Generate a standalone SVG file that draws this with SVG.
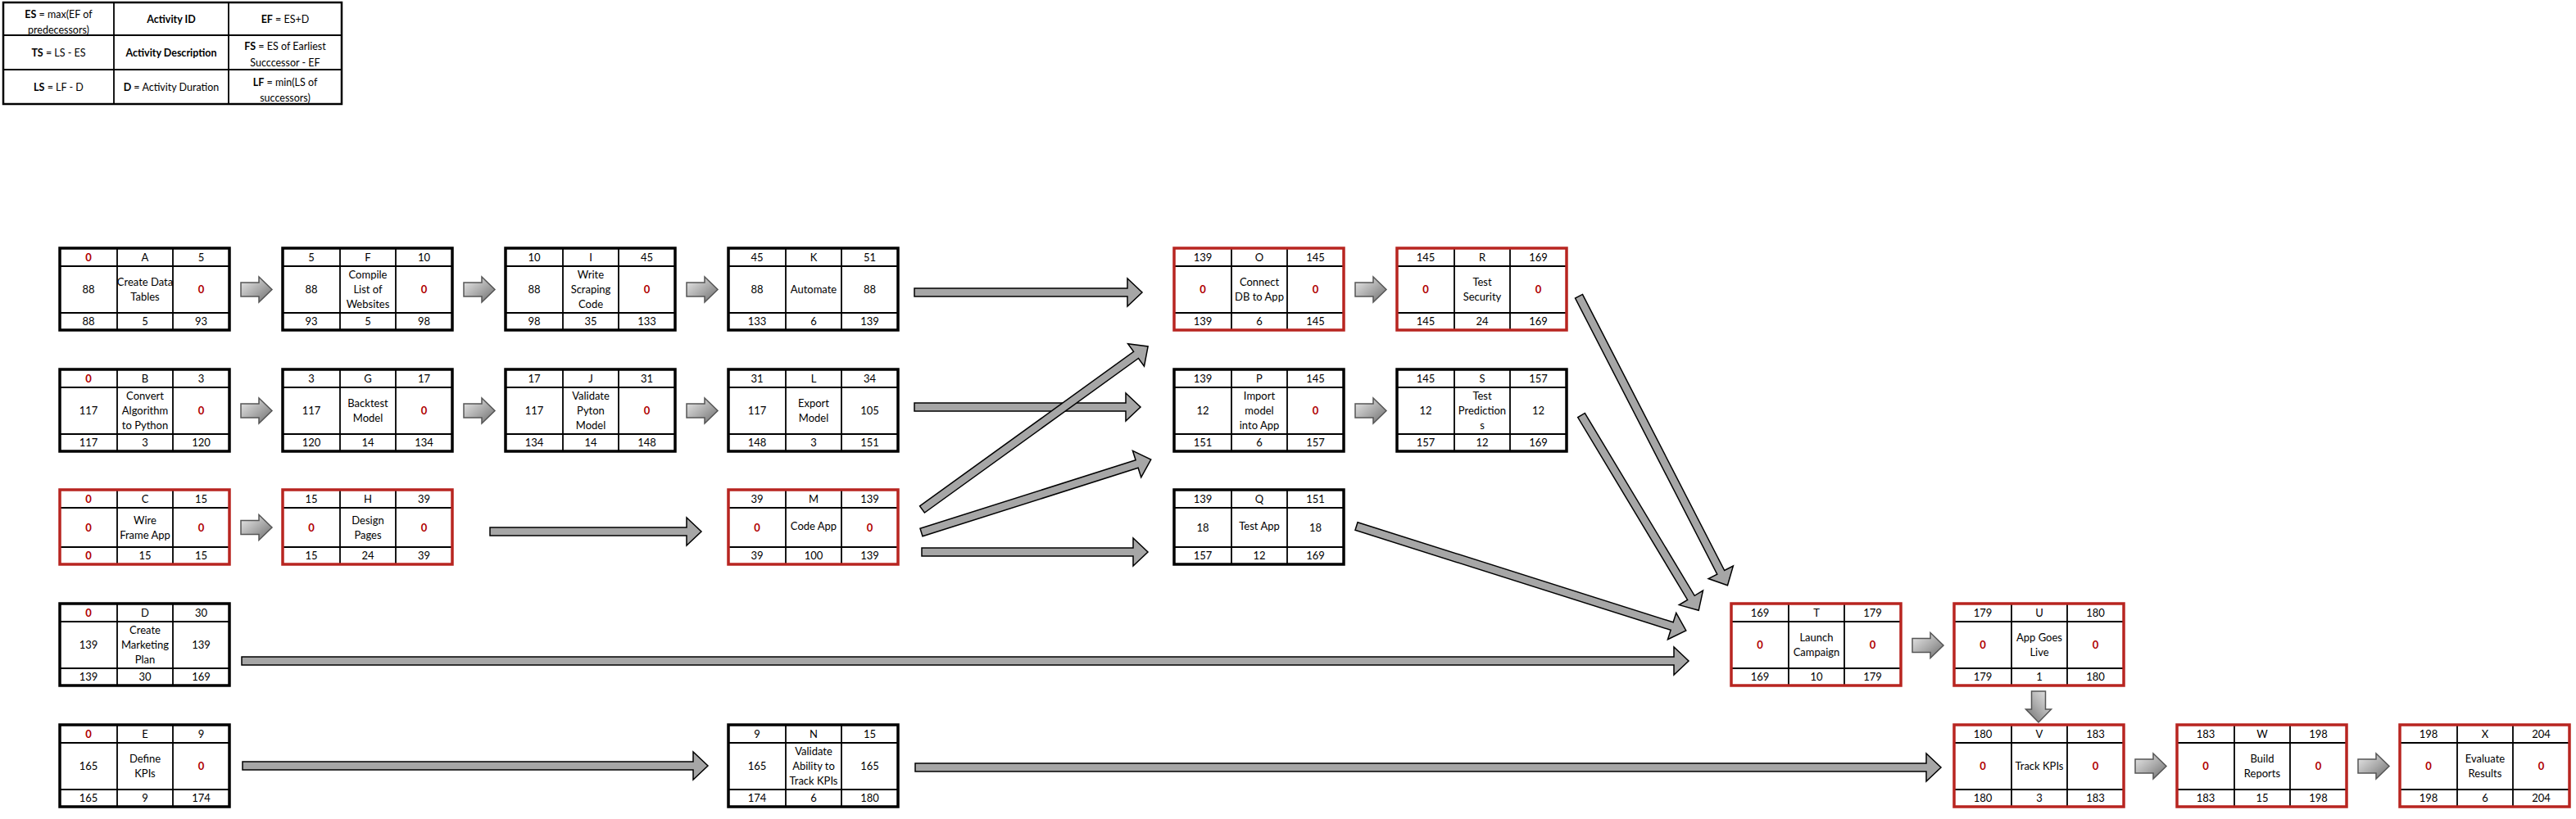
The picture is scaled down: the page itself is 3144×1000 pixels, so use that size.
<svg xmlns="http://www.w3.org/2000/svg" width="3144" height="1000" viewBox="0 0 3144 1000">
<defs>
<style>
.t{font-family:Lato,"Liberation Sans",sans-serif;font-size:13px;text-anchor:middle;fill:#000}
.z{fill:#B00000;font-weight:bold}
.bg{fill:#fff}
.grid{stroke:#000;stroke-width:1.8;fill:none}
.frame{fill:none;stroke-width:3.5}
.k{stroke:#000}
.r{stroke:#B82520}
.la{fill:#a6a6a6;stroke:#000;stroke-width:1.5;stroke-linejoin:miter}
.lg{font-family:Lato,"Liberation Sans",sans-serif;font-size:12.5px;text-anchor:middle;fill:#000}
.b{font-weight:bold}
</style>
<linearGradient id="gr" x1="0" y1="0" x2="1" y2="1">
<stop offset="0" stop-color="#ececec"/>
<stop offset="0.55" stop-color="#a8a8a8"/>
<stop offset="1" stop-color="#6a6a6a"/>
</linearGradient>
<polygon id="sa" points="0,-8.5 22,-8.5 22,-15.5 38,0 22,15.5 22,8.5 0,8.5" fill="url(#gr)" stroke="#555" stroke-width="1.5"/>
</defs>
<rect width="3144" height="1000" fill="#fff"/>

<g id="legend">
<rect x="4" y="3" width="413" height="124" fill="#fff" stroke="#000" stroke-width="2.5"/>
<path d="M139 3V127M279 3V127M4 43H417M4 85H417" stroke="#000" stroke-width="1.8" fill="none"/>
<text class="lg" x="71.5" y="22"><tspan class="b">ES</tspan> = max(EF of</text>
<text class="lg" x="71.5" y="41">predecessors)</text>
<text class="lg b" x="209" y="27.5">Activity ID</text>
<text class="lg" x="348" y="27.5"><tspan class="b">EF</tspan> = ES+D</text>
<text class="lg" x="71.5" y="68.5"><tspan class="b">TS</tspan> = LS - ES</text>
<text class="lg b" x="209" y="68.5">Activity Description</text>
<text class="lg" x="348" y="61"><tspan class="b">FS</tspan> = ES of Earliest</text>
<text class="lg" x="348" y="81">Succcessor - EF</text>
<text class="lg" x="71.5" y="110.5"><tspan class="b">LS</tspan> = LF - D</text>
<text class="lg" x="209" y="110.5"><tspan class="b">D</tspan> = Activity Duration</text>
<text class="lg" x="348" y="105"><tspan class="b">LF</tspan> = min(LS of</text>
<text class="lg" x="348" y="124">successors)</text>
</g>

<g id="connectors">
<use href="#sa" transform="translate(294,353.5)"/>
<use href="#sa" transform="translate(566,353.5)"/>
<use href="#sa" transform="translate(838,353.5)"/>
<use href="#sa" transform="translate(1654,353.5)"/>
<use href="#sa" transform="translate(294,501.5)"/>
<use href="#sa" transform="translate(566,501.5)"/>
<use href="#sa" transform="translate(838,501.5)"/>
<use href="#sa" transform="translate(1654,501.5)"/>
<use href="#sa" transform="translate(294,644)"/>
<use href="#sa" transform="translate(2334,788)"/>
<use href="#sa" transform="translate(2488,844) rotate(90)"/>
<use href="#sa" transform="translate(2606,935.5)"/>
<use href="#sa" transform="translate(2878,935.5)"/>
<polygon class="la" transform="translate(1116,357)" points="0,-5 260,-5 260,-17 278,0 260,17 260,5 0,5"/>
<polygon class="la" transform="translate(1116,497)" points="0,-5 258,-5 258,-17 276,0 258,17 258,5 0,5"/>
<polygon class="la" transform="translate(1125,674)" points="0,-5 258,-5 258,-17 276,0 258,17 258,5 0,5"/>
<polygon class="la" transform="translate(598,649)" points="0,-5 240,-5 240,-17 258,0 240,17 240,5 0,5"/>
<polygon class="la" transform="translate(295,807)" points="0,-5 1748,-5 1748,-17 1766,0 1748,17 1748,5 0,5"/>
<polygon class="la" transform="translate(296,935)" points="0,-5 550,-5 550,-17 568,0 550,17 550,5 0,5"/>
<polygon class="la" transform="translate(1117,937)" points="0,-5 1234,-5 1234,-17 1252,0 1234,17 1234,5 0,5"/>
<polygon class="la" transform="translate(1125.5,622) rotate(-35.84)" points="0,-5 322,-5 322,-17 340,0 322,17 322,5 0,5"/>
<polygon class="la" transform="translate(1124.5,650) rotate(-17.6)" points="0,-5 276,-5 276,-17 294,0 276,17 276,5 0,5"/>
<polygon class="la" transform="translate(1655.5,642.5) rotate(17.58)" points="0,-5 404,-5 404,-17 422,0 404,17 404,5 0,5"/>
<polygon class="la" transform="translate(1927,361.7) rotate(62.8)" points="0,-5 379,-5 379,-17 397,0 379,17 379,5 0,5"/>
<polygon class="la" transform="translate(1930,507) rotate(59)" points="0,-5 260,-5 260,-17 278,0 260,17 260,5 0,5"/>
</g>

<g id="node-A" transform="translate(73,303)">
<rect class="bg" width="207" height="100"/>
<path class="grid" d="M0 22H207M0 79H207M70 0V100M138 0V100"/>
<rect class="frame k" width="207" height="100"/>
<text class="t z" x="35" y="16">0</text><text class="t" x="104" y="16">A</text><text class="t" x="172.5" y="16">5</text>
<text class="t" x="35" y="55">88</text><text class="t" x="104" y="46">Create Data</text><text class="t" x="104" y="64">Tables</text><text class="t z" x="172.5" y="55">0</text>
<text class="t" x="35" y="94">88</text><text class="t" x="104" y="94">5</text><text class="t" x="172.5" y="94">93</text>
</g>

<g id="node-B" transform="translate(73,451)">
<rect class="bg" width="207" height="100"/>
<path class="grid" d="M0 22H207M0 79H207M70 0V100M138 0V100"/>
<rect class="frame k" width="207" height="100"/>
<text class="t z" x="35" y="16">0</text><text class="t" x="104" y="16">B</text><text class="t" x="172.5" y="16">3</text>
<text class="t" x="35" y="55">117</text><text class="t" x="104" y="37">Convert</text><text class="t" x="104" y="55">Algorithm</text><text class="t" x="104" y="73">to Python</text><text class="t z" x="172.5" y="55">0</text>
<text class="t" x="35" y="94">117</text><text class="t" x="104" y="94">3</text><text class="t" x="172.5" y="94">120</text>
</g>

<g id="node-C" transform="translate(73,598)">
<rect class="bg" width="207" height="91"/>
<path class="grid" d="M0 22H207M0 70H207M70 0V91M138 0V91"/>
<rect class="frame r" width="207" height="91"/>
<text class="t z" x="35" y="16">0</text><text class="t" x="104" y="16">C</text><text class="t" x="172.5" y="16">15</text>
<text class="t z" x="35" y="50.5">0</text><text class="t" x="104" y="41.5">Wire</text><text class="t" x="104" y="59.5">Frame App</text><text class="t z" x="172.5" y="50.5">0</text>
<text class="t z" x="35" y="85">0</text><text class="t" x="104" y="85">15</text><text class="t" x="172.5" y="85">15</text>
</g>

<g id="node-D" transform="translate(73,737)">
<rect class="bg" width="207" height="100"/>
<path class="grid" d="M0 22H207M0 79H207M70 0V100M138 0V100"/>
<rect class="frame k" width="207" height="100"/>
<text class="t z" x="35" y="16">0</text><text class="t" x="104" y="16">D</text><text class="t" x="172.5" y="16">30</text>
<text class="t" x="35" y="55">139</text><text class="t" x="104" y="37">Create</text><text class="t" x="104" y="55">Marketing</text><text class="t" x="104" y="73">Plan</text><text class="t" x="172.5" y="55">139</text>
<text class="t" x="35" y="94">139</text><text class="t" x="104" y="94">30</text><text class="t" x="172.5" y="94">169</text>
</g>

<g id="node-E" transform="translate(73,885)">
<rect class="bg" width="207" height="100"/>
<path class="grid" d="M0 22H207M0 79H207M70 0V100M138 0V100"/>
<rect class="frame k" width="207" height="100"/>
<text class="t z" x="35" y="16">0</text><text class="t" x="104" y="16">E</text><text class="t" x="172.5" y="16">9</text>
<text class="t" x="35" y="55">165</text><text class="t" x="104" y="46">Define</text><text class="t" x="104" y="64">KPIs</text><text class="t z" x="172.5" y="55">0</text>
<text class="t" x="35" y="94">165</text><text class="t" x="104" y="94">9</text><text class="t" x="172.5" y="94">174</text>
</g>

<g id="node-F" transform="translate(345,303)">
<rect class="bg" width="207" height="100"/>
<path class="grid" d="M0 22H207M0 79H207M70 0V100M138 0V100"/>
<rect class="frame k" width="207" height="100"/>
<text class="t" x="35" y="16">5</text><text class="t" x="104" y="16">F</text><text class="t" x="172.5" y="16">10</text>
<text class="t" x="35" y="55">88</text><text class="t" x="104" y="37">Compile</text><text class="t" x="104" y="55">List of</text><text class="t" x="104" y="73">Websites</text><text class="t z" x="172.5" y="55">0</text>
<text class="t" x="35" y="94">93</text><text class="t" x="104" y="94">5</text><text class="t" x="172.5" y="94">98</text>
</g>

<g id="node-G" transform="translate(345,451)">
<rect class="bg" width="207" height="100"/>
<path class="grid" d="M0 22H207M0 79H207M70 0V100M138 0V100"/>
<rect class="frame k" width="207" height="100"/>
<text class="t" x="35" y="16">3</text><text class="t" x="104" y="16">G</text><text class="t" x="172.5" y="16">17</text>
<text class="t" x="35" y="55">117</text><text class="t" x="104" y="46">Backtest</text><text class="t" x="104" y="64">Model</text><text class="t z" x="172.5" y="55">0</text>
<text class="t" x="35" y="94">120</text><text class="t" x="104" y="94">14</text><text class="t" x="172.5" y="94">134</text>
</g>

<g id="node-H" transform="translate(345,598)">
<rect class="bg" width="207" height="91"/>
<path class="grid" d="M0 22H207M0 70H207M70 0V91M138 0V91"/>
<rect class="frame r" width="207" height="91"/>
<text class="t" x="35" y="16">15</text><text class="t" x="104" y="16">H</text><text class="t" x="172.5" y="16">39</text>
<text class="t z" x="35" y="50.5">0</text><text class="t" x="104" y="41.5">Design</text><text class="t" x="104" y="59.5">Pages</text><text class="t z" x="172.5" y="50.5">0</text>
<text class="t" x="35" y="85">15</text><text class="t" x="104" y="85">24</text><text class="t" x="172.5" y="85">39</text>
</g>

<g id="node-I" transform="translate(617,303)">
<rect class="bg" width="207" height="100"/>
<path class="grid" d="M0 22H207M0 79H207M70 0V100M138 0V100"/>
<rect class="frame k" width="207" height="100"/>
<text class="t" x="35" y="16">10</text><text class="t" x="104" y="16">I</text><text class="t" x="172.5" y="16">45</text>
<text class="t" x="35" y="55">88</text><text class="t" x="104" y="37">Write</text><text class="t" x="104" y="55">Scraping</text><text class="t" x="104" y="73">Code</text><text class="t z" x="172.5" y="55">0</text>
<text class="t" x="35" y="94">98</text><text class="t" x="104" y="94">35</text><text class="t" x="172.5" y="94">133</text>
</g>

<g id="node-J" transform="translate(617,451)">
<rect class="bg" width="207" height="100"/>
<path class="grid" d="M0 22H207M0 79H207M70 0V100M138 0V100"/>
<rect class="frame k" width="207" height="100"/>
<text class="t" x="35" y="16">17</text><text class="t" x="104" y="16">J</text><text class="t" x="172.5" y="16">31</text>
<text class="t" x="35" y="55">117</text><text class="t" x="104" y="37">Validate</text><text class="t" x="104" y="55">Pyton</text><text class="t" x="104" y="73">Model</text><text class="t z" x="172.5" y="55">0</text>
<text class="t" x="35" y="94">134</text><text class="t" x="104" y="94">14</text><text class="t" x="172.5" y="94">148</text>
</g>

<g id="node-K" transform="translate(889,303)">
<rect class="bg" width="207" height="100"/>
<path class="grid" d="M0 22H207M0 79H207M70 0V100M138 0V100"/>
<rect class="frame k" width="207" height="100"/>
<text class="t" x="35" y="16">45</text><text class="t" x="104" y="16">K</text><text class="t" x="172.5" y="16">51</text>
<text class="t" x="35" y="55">88</text><text class="t" x="104" y="55">Automate</text><text class="t" x="172.5" y="55">88</text>
<text class="t" x="35" y="94">133</text><text class="t" x="104" y="94">6</text><text class="t" x="172.5" y="94">139</text>
</g>

<g id="node-L" transform="translate(889,451)">
<rect class="bg" width="207" height="100"/>
<path class="grid" d="M0 22H207M0 79H207M70 0V100M138 0V100"/>
<rect class="frame k" width="207" height="100"/>
<text class="t" x="35" y="16">31</text><text class="t" x="104" y="16">L</text><text class="t" x="172.5" y="16">34</text>
<text class="t" x="35" y="55">117</text><text class="t" x="104" y="46">Export</text><text class="t" x="104" y="64">Model</text><text class="t" x="172.5" y="55">105</text>
<text class="t" x="35" y="94">148</text><text class="t" x="104" y="94">3</text><text class="t" x="172.5" y="94">151</text>
</g>

<g id="node-M" transform="translate(889,598)">
<rect class="bg" width="207" height="91"/>
<path class="grid" d="M0 22H207M0 70H207M70 0V91M138 0V91"/>
<rect class="frame r" width="207" height="91"/>
<text class="t" x="35" y="16">39</text><text class="t" x="104" y="16">M</text><text class="t" x="172.5" y="16">139</text>
<text class="t z" x="35" y="50.5">0</text><text class="t" x="104" y="49">Code App</text><text class="t z" x="172.5" y="50.5">0</text>
<text class="t" x="35" y="85">39</text><text class="t" x="104" y="85">100</text><text class="t" x="172.5" y="85">139</text>
</g>

<g id="node-N" transform="translate(889,885)">
<rect class="bg" width="207" height="100"/>
<path class="grid" d="M0 22H207M0 79H207M70 0V100M138 0V100"/>
<rect class="frame k" width="207" height="100"/>
<text class="t" x="35" y="16">9</text><text class="t" x="104" y="16">N</text><text class="t" x="172.5" y="16">15</text>
<text class="t" x="35" y="55">165</text><text class="t" x="104" y="37">Validate</text><text class="t" x="104" y="55">Ability to</text><text class="t" x="104" y="73">Track KPIs</text><text class="t" x="172.5" y="55">165</text>
<text class="t" x="35" y="94">174</text><text class="t" x="104" y="94">6</text><text class="t" x="172.5" y="94">180</text>
</g>

<g id="node-O" transform="translate(1433,303)">
<rect class="bg" width="207" height="100"/>
<path class="grid" d="M0 22H207M0 79H207M70 0V100M138 0V100"/>
<rect class="frame r" width="207" height="100"/>
<text class="t" x="35" y="16">139</text><text class="t" x="104" y="16">O</text><text class="t" x="172.5" y="16">145</text>
<text class="t z" x="35" y="55">0</text><text class="t" x="104" y="46">Connect</text><text class="t" x="104" y="64">DB to App</text><text class="t z" x="172.5" y="55">0</text>
<text class="t" x="35" y="94">139</text><text class="t" x="104" y="94">6</text><text class="t" x="172.5" y="94">145</text>
</g>

<g id="node-P" transform="translate(1433,451)">
<rect class="bg" width="207" height="100"/>
<path class="grid" d="M0 22H207M0 79H207M70 0V100M138 0V100"/>
<rect class="frame k" width="207" height="100"/>
<text class="t" x="35" y="16">139</text><text class="t" x="104" y="16">P</text><text class="t" x="172.5" y="16">145</text>
<text class="t" x="35" y="55">12</text><text class="t" x="104" y="37">Import</text><text class="t" x="104" y="55">model</text><text class="t" x="104" y="73">into App</text><text class="t z" x="172.5" y="55">0</text>
<text class="t" x="35" y="94">151</text><text class="t" x="104" y="94">6</text><text class="t" x="172.5" y="94">157</text>
</g>

<g id="node-Q" transform="translate(1433,598)">
<rect class="bg" width="207" height="91"/>
<path class="grid" d="M0 22H207M0 70H207M70 0V91M138 0V91"/>
<rect class="frame k" width="207" height="91"/>
<text class="t" x="35" y="16">139</text><text class="t" x="104" y="16">Q</text><text class="t" x="172.5" y="16">151</text>
<text class="t" x="35" y="50.5">18</text><text class="t" x="104" y="49">Test App</text><text class="t" x="172.5" y="50.5">18</text>
<text class="t" x="35" y="85">157</text><text class="t" x="104" y="85">12</text><text class="t" x="172.5" y="85">169</text>
</g>

<g id="node-R" transform="translate(1705,303)">
<rect class="bg" width="207" height="100"/>
<path class="grid" d="M0 22H207M0 79H207M70 0V100M138 0V100"/>
<rect class="frame r" width="207" height="100"/>
<text class="t" x="35" y="16">145</text><text class="t" x="104" y="16">R</text><text class="t" x="172.5" y="16">169</text>
<text class="t z" x="35" y="55">0</text><text class="t" x="104" y="46">Test</text><text class="t" x="104" y="64">Security</text><text class="t z" x="172.5" y="55">0</text>
<text class="t" x="35" y="94">145</text><text class="t" x="104" y="94">24</text><text class="t" x="172.5" y="94">169</text>
</g>

<g id="node-S" transform="translate(1705,451)">
<rect class="bg" width="207" height="100"/>
<path class="grid" d="M0 22H207M0 79H207M70 0V100M138 0V100"/>
<rect class="frame k" width="207" height="100"/>
<text class="t" x="35" y="16">145</text><text class="t" x="104" y="16">S</text><text class="t" x="172.5" y="16">157</text>
<text class="t" x="35" y="55">12</text><text class="t" x="104" y="37">Test</text><text class="t" x="104" y="55">Prediction</text><text class="t" x="104" y="73">s</text><text class="t" x="172.5" y="55">12</text>
<text class="t" x="35" y="94">157</text><text class="t" x="104" y="94">12</text><text class="t" x="172.5" y="94">169</text>
</g>

<g id="node-T" transform="translate(2113,737)">
<rect class="bg" width="207" height="100"/>
<path class="grid" d="M0 22H207M0 79H207M70 0V100M138 0V100"/>
<rect class="frame r" width="207" height="100"/>
<text class="t" x="35" y="16">169</text><text class="t" x="104" y="16">T</text><text class="t" x="172.5" y="16">179</text>
<text class="t z" x="35" y="55">0</text><text class="t" x="104" y="46">Launch</text><text class="t" x="104" y="64">Campaign</text><text class="t z" x="172.5" y="55">0</text>
<text class="t" x="35" y="94">169</text><text class="t" x="104" y="94">10</text><text class="t" x="172.5" y="94">179</text>
</g>

<g id="node-U" transform="translate(2385,737)">
<rect class="bg" width="207" height="100"/>
<path class="grid" d="M0 22H207M0 79H207M70 0V100M138 0V100"/>
<rect class="frame r" width="207" height="100"/>
<text class="t" x="35" y="16">179</text><text class="t" x="104" y="16">U</text><text class="t" x="172.5" y="16">180</text>
<text class="t z" x="35" y="55">0</text><text class="t" x="104" y="46">App Goes</text><text class="t" x="104" y="64">Live</text><text class="t z" x="172.5" y="55">0</text>
<text class="t" x="35" y="94">179</text><text class="t" x="104" y="94">1</text><text class="t" x="172.5" y="94">180</text>
</g>

<g id="node-V" transform="translate(2385,885)">
<rect class="bg" width="207" height="100"/>
<path class="grid" d="M0 22H207M0 79H207M70 0V100M138 0V100"/>
<rect class="frame r" width="207" height="100"/>
<text class="t" x="35" y="16">180</text><text class="t" x="104" y="16">V</text><text class="t" x="172.5" y="16">183</text>
<text class="t z" x="35" y="55">0</text><text class="t" x="104" y="55">Track KPIs</text><text class="t z" x="172.5" y="55">0</text>
<text class="t" x="35" y="94">180</text><text class="t" x="104" y="94">3</text><text class="t" x="172.5" y="94">183</text>
</g>

<g id="node-W" transform="translate(2657,885)">
<rect class="bg" width="207" height="100"/>
<path class="grid" d="M0 22H207M0 79H207M70 0V100M138 0V100"/>
<rect class="frame r" width="207" height="100"/>
<text class="t" x="35" y="16">183</text><text class="t" x="104" y="16">W</text><text class="t" x="172.5" y="16">198</text>
<text class="t z" x="35" y="55">0</text><text class="t" x="104" y="46">Build</text><text class="t" x="104" y="64">Reports</text><text class="t z" x="172.5" y="55">0</text>
<text class="t" x="35" y="94">183</text><text class="t" x="104" y="94">15</text><text class="t" x="172.5" y="94">198</text>
</g>

<g id="node-X" transform="translate(2929,885)">
<rect class="bg" width="207" height="100"/>
<path class="grid" d="M0 22H207M0 79H207M70 0V100M138 0V100"/>
<rect class="frame r" width="207" height="100"/>
<text class="t" x="35" y="16">198</text><text class="t" x="104" y="16">X</text><text class="t" x="172.5" y="16">204</text>
<text class="t z" x="35" y="55">0</text><text class="t" x="104" y="46">Evaluate</text><text class="t" x="104" y="64">Results</text><text class="t z" x="172.5" y="55">0</text>
<text class="t" x="35" y="94">198</text><text class="t" x="104" y="94">6</text><text class="t" x="172.5" y="94">204</text>
</g>
</svg>
